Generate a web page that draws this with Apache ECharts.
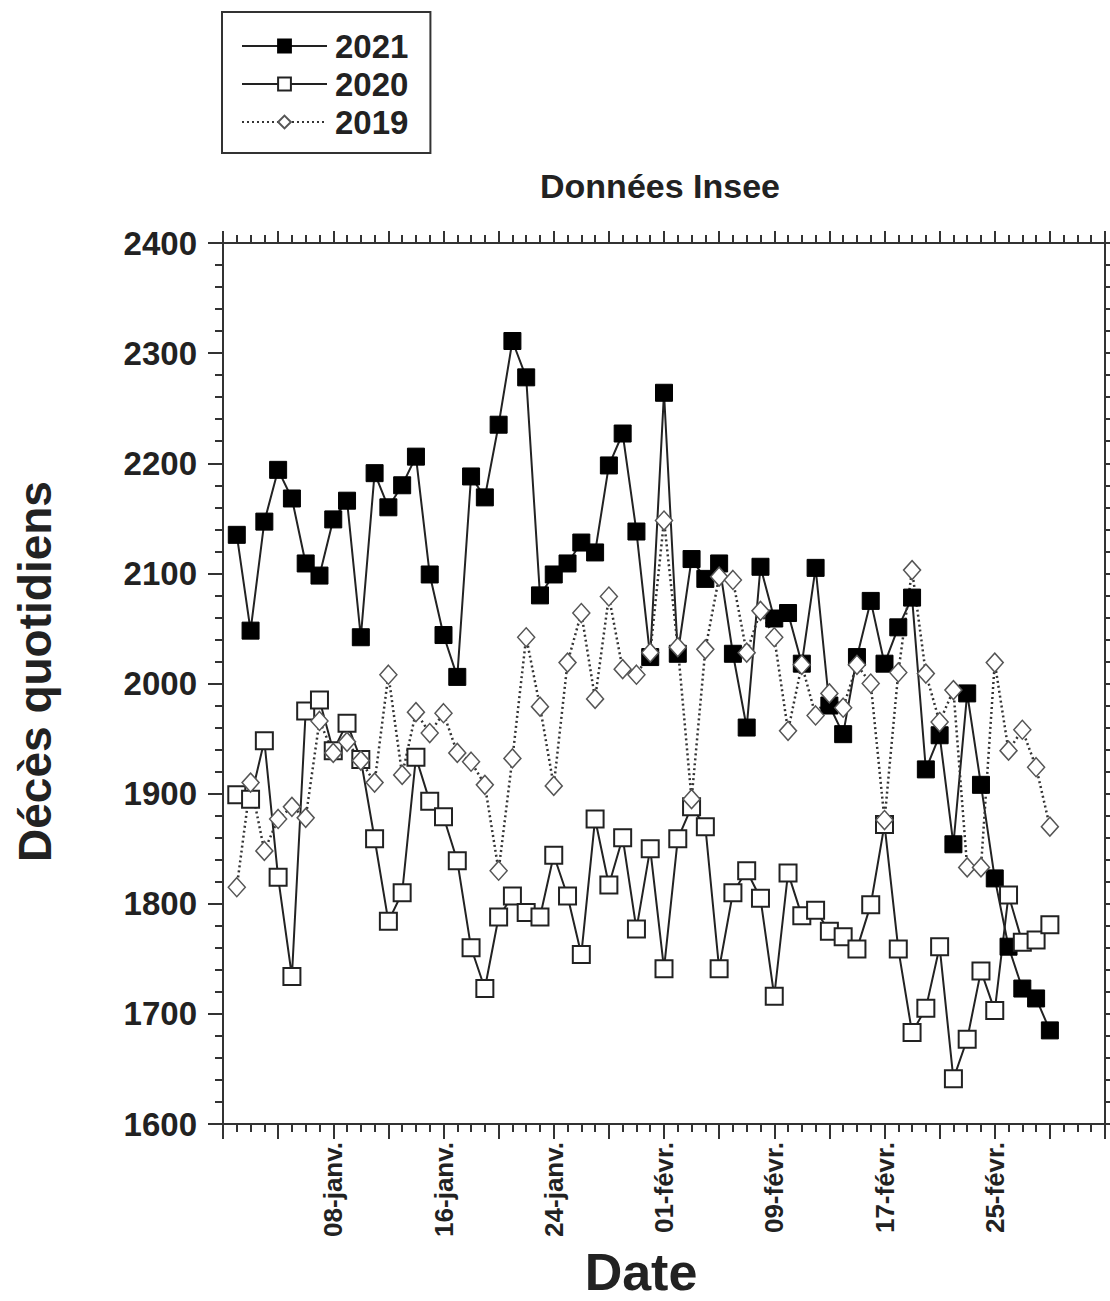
<!DOCTYPE html>
<html><head><meta charset="utf-8">
<script src="https://cdn.jsdelivr.net/npm/echarts@6/dist/echarts.min.js"></script>
<style>html,body{margin:0;padding:0;background:#fff}#c{width:1110px;height:1301px}</style>
</head><body><div id="c"></div>
<script>
const days = [1,2,3,4,5,6,7,8,9,10,11,12,13,14,15,16,17,18,19,20,21,22,23,24,25,26,27,28,29,30,31,32,33,34,35,36,37,38,39,40,41,42,43,44,45,46,47,48,49,50,51,52,53,54,55,56,57,58,59,60];
const tickDays = [8,16,24,32,40,48,56];
const tickLabels = ['08-janv.','16-janv.','24-janv.','01-févr.','09-févr.','17-févr.','25-févr.'];
const seriesNames = ['2021','2020','2019'];
const deaths2021 = [2135,2048,2147,2194,2168,2109,2098,2149,2166,2042,2191,2160,2180,2206,2099,2044,2006,2188,2169,2235,2311,2278,2080,2099,2109,2128,2119,2198,2227,2138,2024,2264,2027,2113,2095,2109,2027,1960,2106,2059,2064,2018,2105,1980,1954,2024,2075,2018,2051,2078,1922,1953,1854,1991,1908,1823,1761,1723,1714,1685];
const deaths2020 = [1899,1895,1948,1824,1734,1975,1985,1939,1964,1931,1859,1784,1810,1933,1893,1879,1839,1760,1723,1788,1807,1792,1788,1844,1807,1754,1877,1817,1860,1777,1850,1741,1859,1888,1870,1741,1810,1830,1805,1716,1828,1789,1794,1775,1770,1759,1799,1872,1759,1683,1705,1761,1641,1677,1739,1703,1808,1765,1767,1781];
const deaths2019 = [1815,1910,1848,1877,1888,1878,1966,1937,1947,1930,1910,2008,1917,1974,1955,1973,1937,1929,1908,1830,1932,2042,1979,1907,2019,2064,1986,2079,2013,2008,2028,2148,2033,1895,2031,2097,2094,2028,2066,2042,1957,2017,1971,1991,1978,2017,2000,1876,2010,2103,2009,1965,1994,1833,1833,2019,1939,1958,1924,1870];

const FONT = 'Liberation Sans, Arial, sans-serif';
const AX = '#333';
const pairs = vals => days.map((d, i) => [d, vals[i]]);

const axisCommon = {
  axisLine: { show: true, onZero: false, lineStyle: { color: AX, width: 2 } },
  axisTick: { show: true, inside: false, length: 15, lineStyle: { color: AX, width: 2 } },
  minorTick: { show: true, length: 8, lineStyle: { color: AX, width: 2 } },
  splitLine: { show: false },
  minorSplitLine: { show: false }
};

const chart = echarts.init(document.getElementById('c'), null, { renderer: 'svg' });
chart.setOption({
  animation: false,
  backgroundColor: '#fff',
  title: {
    text: 'Données Insee', left: 660, top: 169, padding: 0, textAlign: 'center',
    textStyle: { fontFamily: FONT, fontSize: 34, fontWeight: 'bold', color: '#222' }
  },
  legend: {
    data: seriesNames, orient: 'vertical', left: 222, top: 12,
    borderColor: '#333', borderWidth: 2, padding: [17, 22, 14, 19],
    itemWidth: 85, itemHeight: 16, itemGap: 4,
    textStyle: { fontFamily: FONT, fontSize: 33, fontWeight: 'bold', color: '#222', lineHeight: 34, padding: [0, 0, 0, 3] }
  },
  grid: { left: 223, top: 243, right: 5, bottom: 177, containLabel: false, outerBoundsMode: 'none' },
  xAxis: [
    Object.assign({}, axisCommon, {
      type: 'value', min: 0, max: 64, interval: 4, position: 'bottom',
      minorTick: Object.assign({}, axisCommon.minorTick, { splitNumber: 4 }),
      axisLabel: {
        rotate: 90, margin: 18, fontFamily: FONT, fontSize: 26, fontWeight: 'bold', color: '#222',
        formatter: v => { const k = tickDays.indexOf(v); return k >= 0 ? tickLabels[k] : ''; }
      },
      name: 'Date', nameLocation: 'middle', nameGap: 122,
      nameTextStyle: { fontFamily: FONT, fontSize: 52, lineHeight: 52, fontWeight: 'bold', color: '#222', padding: [0, 46, 0, 0] }
    }),
    Object.assign({}, axisCommon, {
      type: 'value', min: 0, max: 64, interval: 4, position: 'top',
      axisTick: Object.assign({}, axisCommon.axisTick, { length: 12 }),
      minorTick: Object.assign({}, axisCommon.minorTick, { splitNumber: 4 }),
      axisLabel: { show: false }
    })
  ],
  yAxis: [
    Object.assign({}, axisCommon, {
      type: 'value', min: 1600, max: 2400, interval: 100, position: 'left',
      minorTick: Object.assign({}, axisCommon.minorTick, { splitNumber: 5 }),
      axisLabel: { margin: 26, fontFamily: FONT, fontSize: 33, fontWeight: 'bold', color: '#222', formatter: v => String(v) },
      name: 'Décès quotidiens', nameLocation: 'middle', nameGap: 165,
      nameTextStyle: { fontFamily: FONT, fontSize: 46, fontWeight: 'bold', color: '#222', padding: [0, 0, 0, 24] }
    }),
    Object.assign({}, axisCommon, {
      type: 'value', min: 1600, max: 2400, interval: 100, position: 'right',
      minorTick: Object.assign({}, axisCommon.minorTick, { splitNumber: 5 }),
      axisLabel: { show: false }
    })
  ],
  series: [
    {
      name: '2021', type: 'line', data: pairs(deaths2021), symbol: 'rect', symbolSize: 17,
      lineStyle: { color: '#222', width: 2 },
      itemStyle: { color: '#000', borderColor: '#000', borderWidth: 1 }
    },
    {
      name: '2020', type: 'line', data: pairs(deaths2020), symbol: 'rect', symbolSize: 17,
      lineStyle: { color: '#222', width: 2 },
      itemStyle: { color: '#fff', borderColor: '#222', borderWidth: 2 }
    },
    {
      name: '2019', type: 'line', data: pairs(deaths2019), symbol: 'diamond', symbolSize: [17, 19],
      lineStyle: { color: '#333', width: 2.5, type: [2, 3] },
      itemStyle: { color: '#fff', borderColor: '#555', borderWidth: 1.5 }
    }
  ]
});
</script></body></html>
